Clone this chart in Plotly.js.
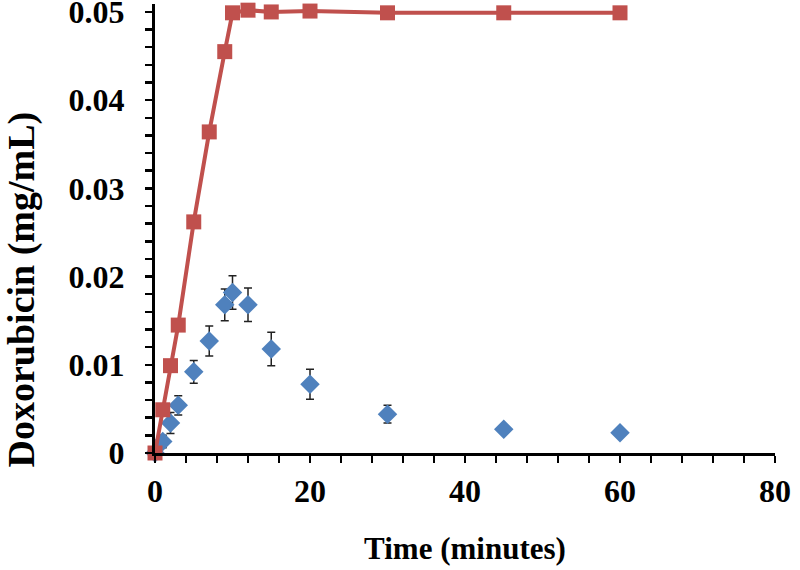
<!DOCTYPE html>
<html><head><meta charset="utf-8">
<script src="https://cdn.plot.ly/plotly-3.0.1.min.js"></script>
<style>html,body{margin:0;padding:0;background:#fff}#c{width:800px;height:570px}</style>
</head><body><div id="c"></div>
<script>
const timeMin = [0, 1, 2, 3, 5, 7, 9, 10, 12, 15, 20, 30, 45, 60];
const controlConc = [0, 0.0049, 0.0099, 0.0145, 0.0262, 0.0364, 0.0455, 0.0499, 0.0502, 0.0500, 0.0501, 0.0499, 0.0499, 0.0499];
const sampleConc = [0, 0.0013, 0.0034, 0.0054, 0.0092, 0.0127, 0.0168, 0.0182, 0.0168, 0.0118, 0.0078, 0.0044, 0.0027, 0.0023];
const sampleErr = [0, 0.0007, 0.0012, 0.0011, 0.0013, 0.0017, 0.0018, 0.0019, 0.0019, 0.0019, 0.0017, 0.0010, 0.0003, 0.0002];
const yTickVals = [0, 0.01, 0.02, 0.03, 0.04, 0.05];
const yTickText = ['0', '0.01', '0.02', '0.03', '0.04', '0.05'];
const yMinorVals = [0.002, 0.004, 0.006, 0.008, 0.012, 0.014, 0.016, 0.018, 0.022, 0.024, 0.026, 0.028,
                    0.032, 0.034, 0.036, 0.038, 0.042, 0.044, 0.046, 0.048];

const fontFam = '"Liberation Serif", "Times New Roman", serif';
const traces = [
  {
    x: timeMin, y: sampleConc, type: 'scatter', mode: 'markers', cliponaxis: false,
    marker: {symbol: 'diamond', size: 15, color: '#4F81BD'},
    error_y: {type: 'data', array: sampleErr, visible: true, color: '#222', thickness: 1.5, width: 4},
    showlegend: false
  },
  {
    x: timeMin, y: controlConc, type: 'scatter', mode: 'lines+markers', cliponaxis: false,
    line: {color: '#C0504D', width: 4},
    marker: {symbol: 'square', size: 15, color: '#C0504D'},
    showlegend: false
  }
];
const layout = {
  width: 800, height: 570,
  margin: {l: 155, r: 25, t: 4, b: 117},
  paper_bgcolor: '#fff', plot_bgcolor: '#fff',
  font: {family: fontFam, color: '#000'},
  xaxis: {
    range: [0, 80], dtick: 20, tick0: 0,
    showgrid: false, zeroline: false,
    showline: true, linecolor: '#000', linewidth: 3,
    ticks: 'outside', ticklen: 7, tickwidth: 2.5, tickcolor: '#000',
    minor: {dtick: 4, ticks: 'outside', ticklen: 7, tickwidth: 2.5, tickcolor: '#000', showgrid: false},
    tickfont: {size: 32, family: fontFam, weight: 'bold'},
    ticklabelstandoff: 1,
    ticklabeloverflow: 'allow',
    title: {text: '<b>Time (minutes)</b>', font: {size: 31, family: fontFam}, standoff: 29}
  },
  yaxis: {
    range: [0, 0.0509], tickmode: 'array', tickvals: yTickVals, ticktext: yTickText,
    showgrid: false, zeroline: false,
    showline: true, linecolor: '#000', linewidth: 3,
    ticks: 'outside', ticklen: 7, tickwidth: 2.5, tickcolor: '#000',
    minor: {tickmode: 'array', tickvals: yMinorVals, ticks: 'outside', ticklen: 7, tickwidth: 2.5, tickcolor: '#000', showgrid: false},
    tickfont: {size: 32, family: fontFam, weight: 'bold'},
    ticklabelstandoff: 14,
    ticklabeloverflow: 'allow'
  },
  annotations: [{
    text: '<b>Doxorubicin (mg/mL)</b>', textangle: -90,
    xref: 'paper', yref: 'paper', x: -155/620, xanchor: 'left', xshift: -3,
    y: (453 - 290) / 449, yanchor: 'middle',
    showarrow: false, font: {size: 38, family: fontFam, color: '#000'}
  }]
};
Plotly.newPlot('c', traces, layout, {displayModeBar: false, staticPlot: true});
</script></body></html>
